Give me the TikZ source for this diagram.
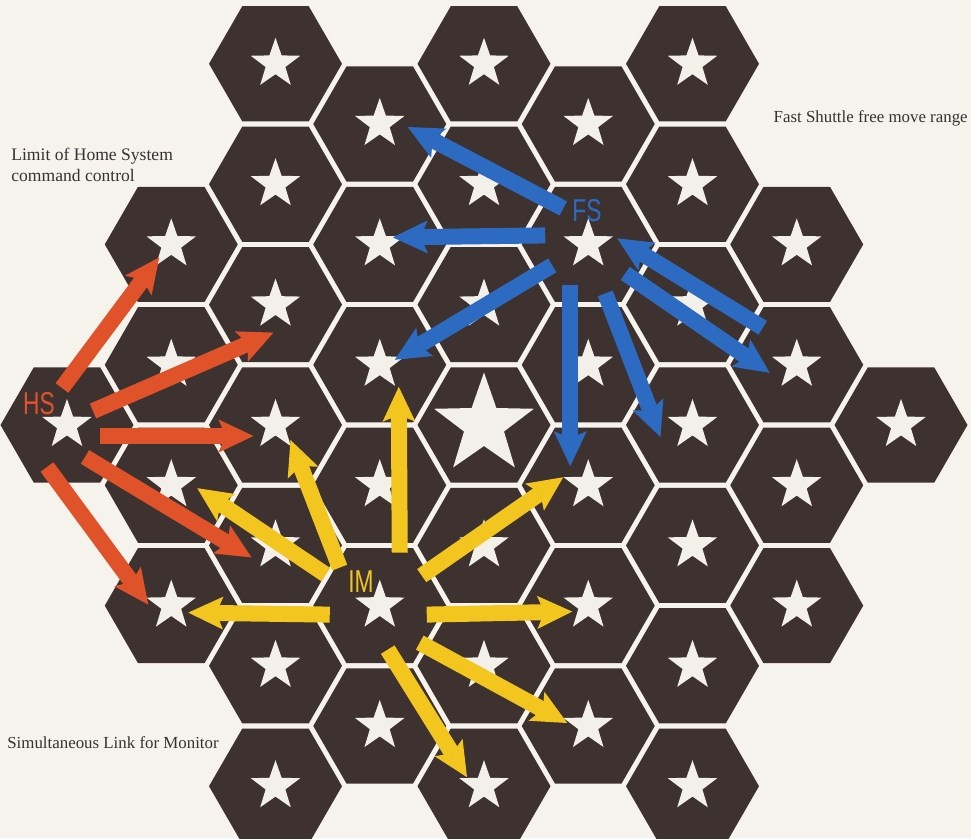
\documentclass[tikz,border=0pt]{standalone}
\usepackage{fontspec}
\setmainfont{Liberation Serif}
\newfontfamily\labelfont{Liberation Sans}
\usetikzlibrary{arrows.meta,shapes.geometric,calc}
\definecolor{paper}{HTML}{F6F3ED}
\definecolor{hexbrown}{HTML}{3E3230}
\definecolor{starwhite}{HTML}{F3F0EA}
\definecolor{hsorange}{HTML}{E0532A}
\definecolor{imyellow}{HTML}{F3C61F}
\definecolor{fsblue}{HTML}{2D6BC3}
\tikzset{
  hexcell/.style={fill=hexbrown},
  starmark/.style={star, star points=5, star point ratio=2.5, fill=starwhite, draw=none,
                   inner sep=0pt, minimum size=10.4mm},
  bigstar/.style={starmark, minimum size=21mm},
  move/.style={line width=3.2mm, -{Stealth[length=7mm,width=6.6mm,inset=1.4mm,line width=0pt]}},
  hsmove/.style={move, draw=hsorange},
  immove/.style={move, draw=imyellow},
  fsmove/.style={move, draw=fsblue},
  unitlbl/.style={font=\labelfont\fontsize{18}{18}\selectfont, xscale=0.72, inner sep=0pt},
  note/.style={font=\fontsize{9.6}{12}\selectfont, align=left, text=black!80, inner sep=0pt, anchor=west}
}

\begin{document}
\begin{tikzpicture}[x=0.2mm, y=-0.2mm]
  \useasboundingbox (0,0) rectangle (971,838);
  \fill[paper] (0,0) rectangle (971,838);
  % hex board: columns 1..9, rows in half steps
  \foreach \c/\ks in {1/{0}, 2/{-3,-1,1,3}, 3/{-6,-4,-2,0,2,4,6}, 4/{-5,-3,-1,1,3,5},
                      5/{-6,-4,-2,0,2,4,6}, 6/{-5,-3,-1,1,3,5}, 7/{-6,-4,-2,0,2,4,6},
                      8/{-3,-1,1,3}, 9/{0}}
    \foreach \k in \ks {
      \pgfmathsetmacro\hx{484+104.25*(\c-5)}
      \pgfmathsetmacro\hy{425+60.2*\k}
      \pgfmathtruncatemacro\j{\k+7}
      \fill[hexcell] (\hx,\hy) +(0:66.5) -- +(60:66.5) -- +(120:66.5) -- +(180:66.5)
                               -- +(240:66.5) -- +(300:66.5) -- cycle;
      \def\sty{starmark}
      \ifnum\c=5 \ifnum\k=0 \def\sty{bigstar}\fi\fi
      \node[\sty] (s\c-\j) at (\hx,\hy) {};
    }

  % Home System
  \draw[hsmove] ([shift={(-5,-37)}]s1-7.center) -- ([shift={(-12,13)}]s2-4.center);
  \draw[hsmove] ([shift={(26,-14)}]s1-7.center) -- ([shift={(-2,28)}]s3-5.center);
  \draw[hsmove] ([shift={(33,11)}]s1-7.center) -- ([shift={(-22,11)}]s3-7.center);
  \draw[hsmove] ([shift={(18,32)}]s1-7.center) -- ([shift={(-24,12)}]s3-9.center);
  \draw[hsmove] ([shift={(-20,42)}]s1-7.center) -- ([shift={(-23,-1)}]s2-10.center);

  % Monitor
  \draw[immove] ([shift={(20,-53)}]s4-10.center) -- ([shift={(19,22)}]s4-6.center);
  \draw[immove] ([shift={(-40,-38)}]s4-10.center) -- ([shift={(15,15)}]s3-7.center);
  \draw[immove] ([shift={(-54,-31)}]s4-10.center) -- ([shift={(26,3)}]s2-8.center);
  \draw[immove] ([shift={(-50,9)}]s4-10.center) -- ([shift={(17,7)}]s2-10.center);
  \draw[immove] ([shift={(42,-30)}]s4-10.center) -- ([shift={(-25,-8)}]s6-8.center);
  \draw[immove] ([shift={(47,9)}]s4-10.center) -- ([shift={(-16,6)}]s6-10.center);
  \draw[immove] ([shift={(40,37)}]s4-10.center) -- ([shift={(-21,-3)}]s6-12.center);
  \draw[immove] ([shift={(8,44)}]s4-10.center) -- ([shift={(-17,-9)}]s5-13.center);

  % Fast Shuttle
  \draw[fsmove] ([shift={(-25,-36)}]s6-4.center) -- ([shift={(28,3)}]s4-2.center);
  \draw[fsmove] ([shift={(-43,-9)}]s6-4.center) -- ([shift={(13,-7)}]s4-4.center);
  \draw[fsmove] ([shift={(-36,21)}]s6-4.center) -- ([shift={(15,-5)}]s4-6.center);
  \draw[fsmove] ([shift={(-18,41)}]s6-4.center) -- ([shift={(-18,-19)}]s6-8.center);
  \draw[fsmove] ([shift={(17,49)}]s6-4.center) -- ([shift={(-32,12)}]s7-7.center);
  \draw[fsmove] ([shift={(37,29)}]s6-4.center) -- ([shift={(-27,8)}]s8-6.center);
  \draw[fsmove] ([shift={(-34,-37)}]s8-6.center) -- ([shift={(29,-6)}]s6-4.center);

  \node[unitlbl, text=hsorange] (hslbl) at (39,404) {HS};
  \node[unitlbl, text=imyellow] (imlbl) at (361,582) {IM};
  \node[unitlbl, text=fsblue] (fslbl) at (587,211) {FS};

  \node[note, font=\fontsize{10}{12}\selectfont] (hsnote) at (11,165) {Limit of Home System\\command control};
  \node[note, anchor=east] (fsnote) at (968,118) {Fast Shuttle free move range};
  \node[note] (imnote) at (7,743) {Simultaneous Link for Monitor};
\end{tikzpicture}
\end{document}
